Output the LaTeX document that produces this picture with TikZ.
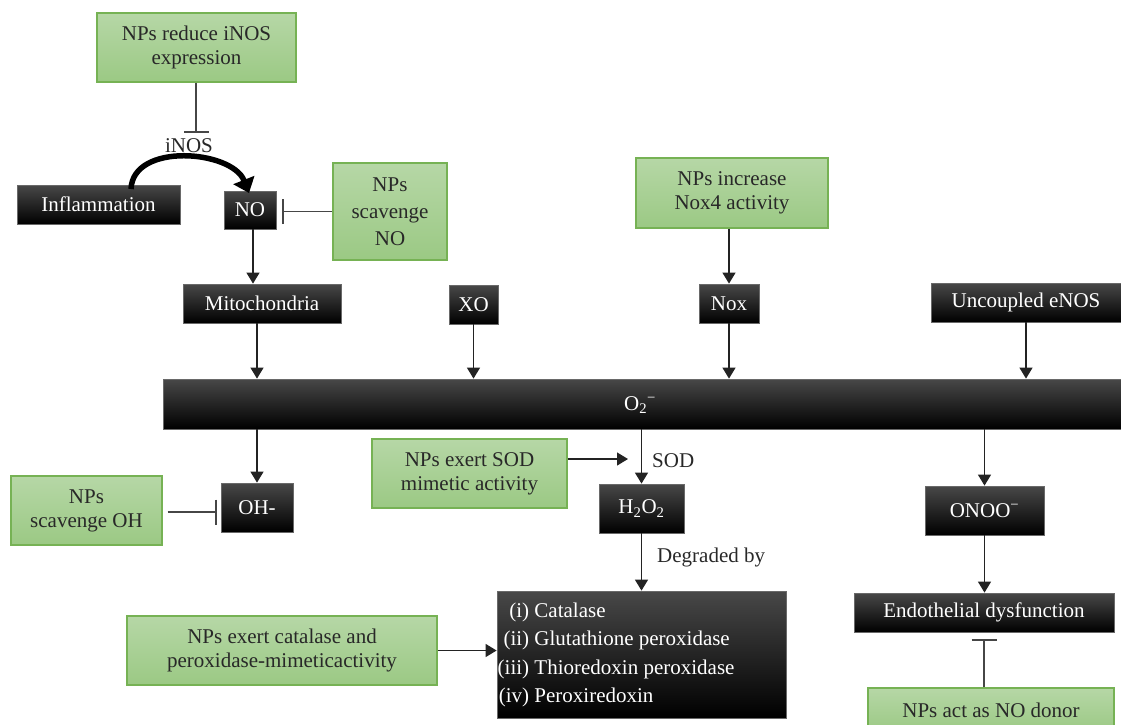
\documentclass[tikz,border=0pt]{standalone}
\usepackage{fontspec}
\setmainfont{Liberation Serif}
\usetikzlibrary{arrows.meta}
\definecolor{gfillA}{RGB}{182,215,166}
\definecolor{gfillB}{RGB}{155,201,132}
\definecolor{gborder}{RGB}{118,178,84}
\definecolor{gtext}{RGB}{40,40,40}
\definecolor{btop}{RGB}{72,72,72}
\definecolor{bline}{RGB}{105,105,105}
\definecolor{conn}{RGB}{35,35,35}
\definecolor{inhc}{RGB}{70,70,70}
\begin{document}
\begin{tikzpicture}[x=1pt,y=-1pt,
  font=\fontsize{21}{24}\selectfont,
  gbox/.style={draw=gborder, line width=1.3pt, top color=gfillA, bottom color=gfillB, text=gtext, align=center, inner sep=0pt},
  bbox/.style={draw=bline, line width=0.8pt, top color=btop, middle color=black, bottom color=black, text=white, align=center, inner sep=0pt},
  lbl/.style={text=gtext, inner sep=0pt},
  arr/.style={draw=conn, line width=1.3pt, -{Triangle[width=13pt,length=11pt]}},
  inh/.style={draw=inhc, line width=1.3pt, -{Bar[width=25pt,line width=1.6pt]}},
  thick arrow/.style={draw=black, line width=5.5pt, -{Triangle[width=22pt,length=14pt]}}
]
\useasboundingbox (0,0) rectangle (1121,724);

% green boxes
\node[gbox, minimum width=199pt, minimum height=69pt] (gInos) at (196.5,47.5) {NPs reduce iNOS\\expression};
\node[gbox, minimum width=114pt, minimum height=97pt] (gScavNO) at (390,211.5) {NPs\\[3pt]scavenge\\[3pt]NO};
\node[gbox, minimum width=192pt, minimum height=70pt] (gNox) at (732,193) {NPs increase\\Nox4 activity};
\node[gbox, minimum width=151pt, minimum height=69pt] (gOH) at (86.5,510.5) {NPs\\scavenge OH};
\node[gbox, minimum width=195pt, minimum height=69pt] (gSOD) at (469.5,473.5) {NPs exert SOD\\mimetic activity};
\node[gbox, minimum width=310pt, minimum height=69pt] (gCat) at (282,650.5) {NPs exert catalase and\\peroxidase-mimeticactivity};
\node[gbox, minimum width=246pt, minimum height=44pt] (gDonor) at (991,710) {NPs act as NO donor};

% black boxes
\node[bbox, minimum width=163pt, minimum height=39pt] (infl) at (98.5,204.5) {Inflammation};
\node[bbox, minimum width=52pt, minimum height=38pt] (no) at (250,210) {NO};
\node[bbox, minimum width=158pt, minimum height=39pt] (mito) at (262,303.5) {Mitochondria};
\node[bbox, minimum width=49pt, minimum height=39pt] (xo) at (473.5,304.5) {XO};
\node[bbox, minimum width=60pt, minimum height=39pt] (nox) at (729,303.5) {Nox};
\node[bbox, minimum width=190pt, minimum height=39pt] (enos) at (1026,302.5) {Uncoupled eNOS};
\node[bbox, minimum width=958pt, minimum height=50pt] (bar) at (642,404) {};
\node[text=white, inner sep=0pt] (o2) at (640,405) {O\textsubscript{2}\textsuperscript{−}};
\node[bbox, minimum width=72pt, minimum height=49pt] (oh) at (257,507.5) {OH-};
\node[bbox, minimum width=85pt, minimum height=49pt] (h2o2) at (641.5,508.5) {H\textsubscript{2}O\textsubscript{2}};
\node[bbox, minimum width=289pt, minimum height=127pt] (cat) at (641.5,654.5) {};
\node[text=white, inner sep=0pt, anchor=west] (catlist) at (497.5,654.5)
  {\fontsize{21}{28.5}\selectfont\begin{tabular}{@{}r@{ }l@{}}(i)&Catalase\\(ii)&Glutathione peroxidase\\(iii)&Thioredoxin peroxidase\\(iv)&Peroxiredoxin\end{tabular}};
\node[bbox, minimum width=119pt, minimum height=49pt] (onoo) at (984.5,510.5) {ONOO\textsuperscript{−}};
\node[bbox, minimum width=260pt, minimum height=39pt] (endo) at (984,612.5) {Endothelial dysfunction};

% labels
\node[lbl] (inosl) at (189,146) {iNOS};
\node[lbl, anchor=west] (sodl) at (652,461) {SOD};
\node[lbl, anchor=west] (degl) at (657,557) {Degraded by};

% coordinates
\coordinate (inosbar) at (196,133);
\coordinate (sodtip) at (628,459);

% curved arrow
\draw[thick arrow] (131,189) .. controls (133,142) and (232,150) .. (249,193);

% inhibition connectors
\draw[inh] (gInos.south -| inosbar) -- (inosbar);
\draw[inh, shorten >=6pt] (gScavNO.west) -- (gScavNO.west -| no.east);
\draw[inh, shorten <=5pt, shorten >=4pt] (gOH.east |- 0,512) -- (oh.west |- 0,512);
\draw[inh, shorten >=7pt] (endo.south |- gDonor.north) -- (endo.south);

% arrows
\draw[arr] ([xshift=3pt]no.south) -- ([xshift=3pt]no.south |- mito.north);
\draw[arr] ([xshift=-5pt]mito.south) -- ([xshift=-5pt]mito.south |- bar.north);
\draw[arr] (xo.south) -- (xo.south |- bar.north);
\draw[arr] (nox.north |- gNox.south) -- (nox.north);
\draw[arr] (nox.south) -- (nox.south |- bar.north);
\draw[arr] (enos.south) -- (enos.south |- bar.north);
\draw[arr] (oh.north |- bar.south) -- (oh.north);
\draw[arr] (h2o2.north |- bar.south) -- (h2o2.north);
\draw[arr] (gSOD.east |- sodtip) -- (sodtip);
\draw[arr] (h2o2.south) -- (h2o2.south |- cat.north);
\draw[arr] (gCat.east) -- (gCat.east -| cat.west);
\draw[arr] (onoo.north |- bar.south) -- (onoo.north);
\draw[arr] (onoo.south) -- (onoo.south |- endo.north);
\end{tikzpicture}
\end{document}
